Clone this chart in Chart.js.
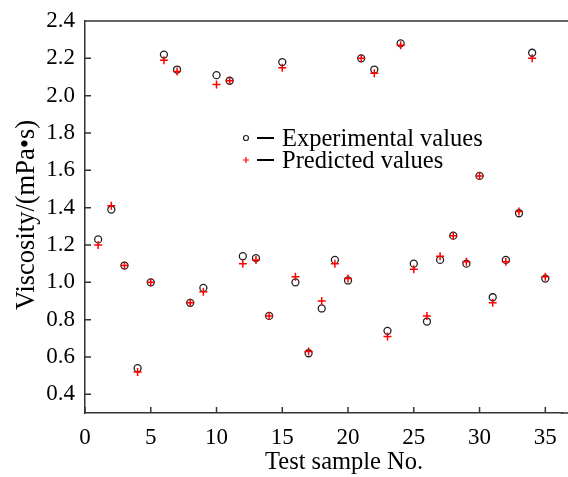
<!DOCTYPE html>
<html>
<head>
<meta charset="utf-8">
<script src="https://cdn.jsdelivr.net/npm/chart.js@4.4.1/dist/chart.umd.min.js"></script>
<style>
  html, body { margin: 0; padding: 0; background: #fff; overflow: hidden; }
  canvas { display: block; }
</style>
</head>
<body>
<canvas id="chart" width="568" height="477"></canvas>
<script>
// 샘플 번호
const samples = [1,2,3,4,5,6,7,8,9,10,11,12,13,14,15,16,17,18,19,20,21,22,23,24,25,26,27,28,29,30,31,32,33,34,35];
// 실험값
const experimental = [1.23,1.39,1.09,0.54,1.00,2.22,2.14,0.89,0.97,2.11,2.08,1.14,1.13,0.82,2.18,1.00,0.62,0.86,1.12,1.01,2.20,2.14,0.74,2.28,1.10,0.79,1.12,1.25,1.10,1.57,0.92,1.12,1.37,2.23,1.02];
// 예측값
const predicted = [1.20,1.41,1.09,0.52,1.00,2.19,2.13,0.89,0.95,2.06,2.08,1.10,1.12,0.82,2.15,1.03,0.63,0.90,1.10,1.02,2.20,2.12,0.71,2.27,1.07,0.82,1.14,1.25,1.11,1.57,0.89,1.11,1.38,2.20,1.03];
// 축 눈금
const xTicks = [0,5,10,15,20,25,30,35];
const yTicks = [0.4,0.6,0.8,1.0,1.2,1.4,1.6,1.8,2.0,2.2,2.4];
const xTitle = 'Test sample No.';
const yTitle = 'Viscosity/(mPa•s)';

const FONT = '"Liberation Serif", "Times New Roman", serif';
const AXIS = '#333';

// 안쪽 눈금, 위/아래 테두리, 축 제목, 범례 그리기
const decorPlugin = {
    id: 'decor',
    afterDraw(chart) {
        const ctx = chart.ctx;
        const area = chart.chartArea;
        const xs = chart.scales.x, ys = chart.scales.y;
        ctx.save();
        ctx.strokeStyle = AXIS;
        ctx.lineWidth = 1.5;
        ctx.beginPath();
        // 테두리는 그림 오른쪽 끝까지 이어짐
        ctx.moveTo(area.left, area.top);
        ctx.lineTo(chart.width, area.top);
        ctx.moveTo(area.right - 1, area.bottom);
        ctx.lineTo(chart.width, area.bottom);
        xTicks.forEach(v => {
            const px = xs.getPixelForValue(v);
            ctx.moveTo(px, area.bottom);
            ctx.lineTo(px, area.bottom - 6);
        });
        yTicks.forEach(v => {
            const py = ys.getPixelForValue(v);
            ctx.moveTo(area.left, py);
            ctx.lineTo(area.left + 6, py);
        });
        ctx.stroke();

        // 축 제목
        ctx.fillStyle = '#000';
        ctx.textBaseline = 'alphabetic';
        ctx.font = '24.5px ' + FONT;
        ctx.textAlign = 'left';
        ctx.fillText(xTitle, 265, 469);
        ctx.save();
        ctx.translate(34, 215);
        ctx.rotate(-Math.PI / 2);
        ctx.font = '26.5px ' + FONT;
        ctx.textAlign = 'center';
        ctx.fillText(yTitle, 0, 0);
        ctx.restore();

        // 범례
        const lx = 246, rows = [146, 168];
        ctx.font = '24.5px ' + FONT;
        ctx.textAlign = 'left';
        chart.data.datasets.forEach((ds, i) => {
            const base = rows[i];
            const y = base - 8;
            ctx.strokeStyle = ds.borderColor;
            ctx.lineWidth = 1.2;
            ctx.beginPath();
            if (ds.pointStyle === 'circle') {
                ctx.arc(lx, y, 2.5, 0, Math.PI * 2);
            } else {
                ctx.moveTo(lx - 3, y); ctx.lineTo(lx + 3, y);
                ctx.moveTo(lx, y - 3); ctx.lineTo(lx, y + 3);
            }
            ctx.stroke();
            ctx.strokeStyle = '#000';
            ctx.lineWidth = 2;
            ctx.beginPath();
            ctx.moveTo(257, y);
            ctx.lineTo(274, y);
            ctx.stroke();
            ctx.fillText(ds.label, 282, base);
        });
        ctx.restore();
    }
};

new Chart(document.getElementById('chart'), {
    type: 'scatter',
    data: {
        datasets: [
            {
                label: 'Experimental values',
                data: samples.map((s, i) => ({ x: s, y: experimental[i] })),
                pointStyle: 'circle',
                pointRadius: 3.5,
                borderColor: '#222',
                backgroundColor: 'rgba(0,0,0,0)',
                borderWidth: 1.3,
                order: 1
            },
            {
                label: 'Predicted values',
                data: samples.map((s, i) => ({ x: s, y: predicted[i] })),
                pointStyle: 'cross',
                pointRadius: 4,
                borderColor: '#ff0000',
                backgroundColor: '#ff0000',
                borderWidth: 1.5,
                order: 0
            }
        ]
    },
    plugins: [decorPlugin],
    options: {
        responsive: false,
        animation: false,
        layout: { padding: { top: 21, right: 0, left: 0, bottom: 0 } },
        plugins: {
            legend: { display: false },
            tooltip: { enabled: false }
        },
        scales: {
            x: {
                type: 'linear',
                min: 0,
                max: 36.28,
                afterBuildTicks: s => { s.ticks = xTicks.map(v => ({ value: v })); },
                afterFit: s => { s.height = 64; },
                grid: { display: false, drawTicks: false },
                border: { display: true, color: AXIS, width: 1.5 },
                ticks: { color: '#000', font: { family: FONT, size: 23 }, padding: 11, maxRotation: 0 }
            },
            y: {
                min: 0.3,
                max: 2.4,
                afterBuildTicks: s => { s.ticks = yTicks.map(v => ({ value: v })); },
                afterFit: s => { s.width = 85; s.paddingTop = 0; s.paddingBottom = 0; },
                grid: { display: false, drawTicks: false },
                border: { display: true, color: AXIS, width: 1.5 },
                ticks: { color: '#000', font: { family: FONT, size: 23 }, padding: 10, callback: v => v.toFixed(1) }
            }
        }
    }
});
</script>
</body>
</html>
